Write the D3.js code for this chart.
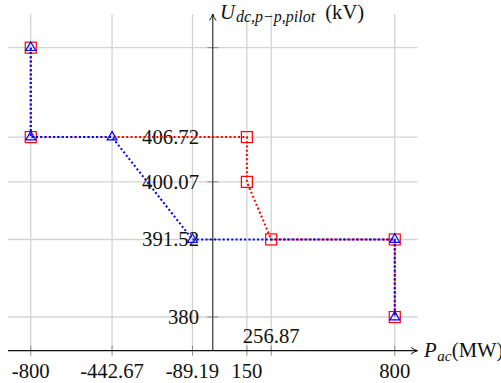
<!DOCTYPE html>
<html>
<head>
<meta charset="utf-8">
<script src="https://cdn.jsdelivr.net/npm/d3@7/dist/d3.min.js"></script>
<style>
html,body{margin:0;padding:0;background:#fff;}
svg{display:block;}
text{font-family:"Liberation Serif","DejaVu Serif",serif;}
</style>
</head>
<body>
<svg id="chart" width="501" height="383"></svg>
<script>
// Data
const xTicks = [-800, -442.67, -89.19, 150, 256.87, 800];
const xTickLabelsBelow = [-800, -442.67, -89.19, 150, 800];
const xTickLabelsAbove = [256.87];
const yTicks = [380, 391.52, 400.07, 406.72, 420];
const yTickLabels = [380, 391.52, 400.07, 406.72];

const redX = [-800, -800, 150, 150, 256.87, 800, 800];
const redY = [420, 406.72, 406.72, 400.07, 391.52, 391.52, 380];
const blueX = [-800, -800, -442.67, -89.19, 800, 800];
const blueY = [420, 406.72, 406.72, 391.52, 391.52, 380];

const fmt = v => String(v);

const svg = d3.select("#chart");
const x = d3.scaleLinear().domain([-900, 900]).range([8, 417.5]);
const y = d3.scaleLinear().domain([375, 425]).range([350.7, 14]);

// defs: arrow
const defs = svg.append("defs");
defs.append("marker").attr("id","arr").attr("viewBox","0 0 10 10")
  .attr("refX",9).attr("refY",5).attr("markerWidth",8).attr("markerHeight",8)
  .attr("markerUnits","userSpaceOnUse").attr("orient","auto")
  .append("path").attr("d","M1,1 Q5,4 9,5 Q5,6 1,9").attr("fill","none").attr("stroke","#000").attr("stroke-width",1.2);

// Grid
const grid = svg.append("g");
grid.selectAll("line.vx").data(xTicks).join("line")
  .attr("x1", d => x(d)).attr("x2", d => x(d))
  .attr("y1", y(375)).attr("y2", y(425))
  .attr("stroke", "#cfcfcf").attr("stroke-width", 1.2);
grid.selectAll("line.hy").data(yTicks).join("line")
  .attr("y1", d => y(d)).attr("y2", d => y(d))
  .attr("x1", x(-900)).attr("x2", x(900))
  .attr("stroke", "#d4d4d4").attr("stroke-width", 1.4);

// Ticks
const ticks = svg.append("g");
ticks.selectAll("line.tx").data(xTicks).join("line")
  .attr("x1", d => x(d)).attr("x2", d => x(d))
  .attr("y1", y(375) - 5).attr("y2", y(375) + 5)
  .attr("stroke", "#888").attr("stroke-width", 1);
ticks.selectAll("line.ty").data(yTicks).join("line")
  .attr("y1", d => y(d)).attr("y2", d => y(d))
  .attr("x1", x(0) - 5.5).attr("x2", x(0) + 5.5)
  .attr("stroke", "#888").attr("stroke-width", 1);

// Axes
svg.append("line").attr("x1", x(-900)).attr("x2", x(900)).attr("y1", y(375)).attr("y2", y(375))
  .attr("stroke", "#111").attr("stroke-width", 1.3).attr("marker-end","url(#arr)");
svg.append("line").attr("x1", x(0)).attr("x2", x(0)).attr("y1", y(375)).attr("y2", y(425))
  .attr("stroke", "#444").attr("stroke-width", 1.3).attr("marker-end","url(#arr)");

// Tick labels
const lab = svg.append("g").attr("font-size", 20.7).attr("fill", "#111");
lab.selectAll("text.xb").data(xTickLabelsBelow).join("text")
  .attr("x", d => x(d)).attr("y", 378.3).attr("text-anchor","middle").text(fmt);
lab.selectAll("text.xa").data(xTickLabelsAbove).join("text")
  .attr("x", d => x(d)).attr("y", 342.5).attr("text-anchor","middle").text(fmt);
lab.selectAll("text.yl").data(yTickLabels).join("text")
  .attr("x", 199).attr("y", d => y(d)).attr("dy","0.34em").attr("text-anchor","end").text(fmt);

// Axis titles
const yt = svg.append("text").attr("x", 220).attr("y", 18.5).attr("font-size", 20.7).attr("fill","#111");
yt.append("tspan").attr("font-style","italic").text("U");
yt.append("tspan").attr("font-style","italic").attr("font-size", 16).attr("dx", 1).attr("dy", 3.5).text("dc,p\u2212p,pilot");
yt.append("tspan").attr("dx", 10).attr("dy", -3.5).text("(kV)");

const xt = svg.append("text").attr("x", 424).attr("y", 357).attr("font-size", 20.7).attr("fill","#111");
xt.append("tspan").attr("font-style","italic").text("P");
xt.append("tspan").attr("font-style","italic").attr("font-size", 15).attr("dx", 0.5).attr("dy", 3.5).text("ac");
xt.append("tspan").attr("dx", 0.5).attr("dy", -3.5).text("(MW)");

// Series
const line = d3.line().x(d => x(d[0])).y(d => y(d[1]));
const red = redX.map((v,i) => [v, redY[i]]);
const blue = blueX.map((v,i) => [v, blueY[i]]);

svg.append("path").datum(red).attr("d", line).attr("fill","none")
  .attr("stroke","#ff0000").attr("stroke-width",2).attr("stroke-dasharray","2,2.3");
svg.append("g").selectAll("rect").data(red).join("rect")
  .attr("x", d => x(d[0]) - 5.5).attr("y", d => y(d[1]) - 5.5)
  .attr("width", 11).attr("height", 11)
  .attr("fill","none").attr("stroke","#ff0000").attr("stroke-width",1.2);

svg.append("path").datum(blue).attr("d", line).attr("fill","none")
  .attr("stroke","#0000ff").attr("stroke-width",2).attr("stroke-dasharray","2,2.3");
const tri = d3.symbol().type(d3.symbolTriangle).size(42);
svg.append("g").selectAll("path").data(blue).join("path")
  .attr("transform", d => `translate(${x(d[0])},${y(d[1])})`)
  .attr("d", tri)
  .attr("fill","none").attr("stroke","#0000ff").attr("stroke-width",1.2);
</script>
</body>
</html>
